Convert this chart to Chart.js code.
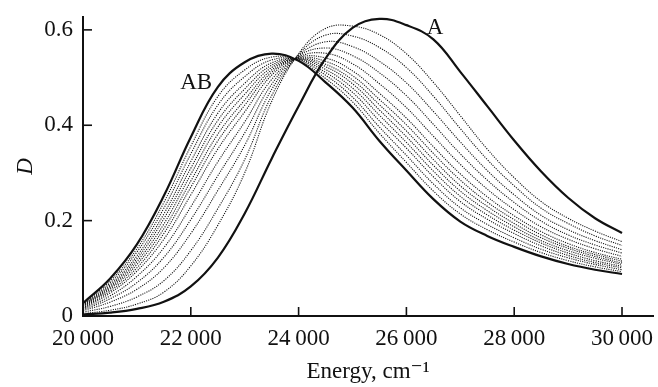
<!DOCTYPE html>
<html>
<head>
  <meta charset="utf-8">
  <title>Absorption spectra</title>
  <style>
  body { margin:0; background:#fff; }
  #wrap { width:658px; height:387px; position:relative; }
  </style>
  <script src="https://cdn.jsdelivr.net/npm/chart.js@4.4.1/dist/chart.umd.min.js"></script>
</head>
<body>
<div id="wrap"><canvas id="spectra"></canvas></div>
<script>

// energy grid, cm-1
var energy = [20000,20500,21000,21500,22000,22500,23000,23500,24000,24500,25000,25500,26000,26500,27000,27500,28000,28500,29000,29500,30000];

// the two solid spectra
var curveA  = [.003,.007,.015,.030,.062,.122,.215,.330,.440,.540,.604,.623,.610,.580,.512,.440,.368,.303,.248,.205,.174];
var curveAB = [.027,.078,.150,.252,.375,.480,.532,.550,.535,.490,.437,.367,.305,.245,.198,.168,.145,.125,.109,.097,.088];

// intermediate (dotted) spectra, from AB side towards A side
var mid01 = [.026,.073,.141,.238,.356,.460,.516,.543,.536,.498,.449,.383,.322,.262,.214,.181,.155,.133,.116,.103,.093];
var mid02 = [.024,.069,.134,.226,.340,.442,.502,.537,.537,.505,.459,.396,.337,.277,.227,.192,.164,.140,.122,.108,.097];
var mid03 = [.023,.065,.126,.214,.324,.425,.488,.531,.538,.511,.469,.409,.352,.292,.240,.203,.173,.147,.127,.112,.101];
var mid04 = [.022,.062,.120,.204,.310,.410,.476,.526,.539,.517,.478,.421,.364,.304,.251,.212,.180,.153,.132,.116,.104];
var mid05 = [.021,.059,.114,.193,.297,.396,.465,.521,.539,.523,.487,.432,.376,.316,.262,.221,.187,.158,.137,.121,.108];
var mid06 = [.020,.056,.108,.183,.283,.381,.453,.516,.540,.528,.495,.443,.388,.328,.273,.230,.194,.164,.142,.125,.111];
var mid07 = [.018,.052,.101,.173,.270,.367,.442,.511,.541,.534,.504,.454,.401,.341,.285,.239,.202,.170,.146,.129,.115];
var mid08 = [.017,.048,.094,.161,.254,.350,.428,.505,.542,.541,.514,.467,.415,.355,.298,.250,.210,.177,.152,.133,.119];
var mid09 = [.015,.042,.083,.143,.229,.323,.407,.496,.543,.551,.529,.487,.437,.377,.318,.266,.223,.187,.161,.141,.125];
var mid10 = [.013,.036,.070,.123,.202,.294,.384,.486,.545,.562,.546,.510,.462,.402,.340,.285,.238,.199,.170,.149,.132];
var mid11 = [.011,.029,.056,.101,.173,.263,.358,.475,.546,.575,.565,.534,.489,.429,.365,.305,.254,.211,.181,.158,.139];
var mid12 = [.008,.020,.040,.074,.137,.225,.328,.462,.548,.589,.587,.563,.521,.461,.393,.328,.273,.226,.194,.168,.148];
var mid13 = [.005,.012,.025,.050,.105,.190,.300,.450,.550,.603,.608,.590,.550,.490,.420,.350,.290,.240,.205,.178,.156];

var midCurves = [mid01,mid02,mid03,mid04,mid05,mid06,mid07,mid08,mid09,mid10,mid11,mid12,mid13];

var xTicks = [20000,22000,24000,26000,28000,30000];
var yTicks = [0,0.2,0.4,0.6];

var serif = '"Liberation Serif", "DejaVu Serif", serif';

function pts(arr){
  return arr.map(function(v,i){ return {x:energy[i], y:v}; });
}

var sets = [];
sets.push({label:'A',  data:pts(curveA),  borderColor:'#111', borderWidth:2.2, pointRadius:0, fill:false, tension:0.4});
sets.push({label:'AB', data:pts(curveAB), borderColor:'#111', borderWidth:2.2, pointRadius:0, fill:false, tension:0.4});
for(var k=0;k<midCurves.length;k++){
  sets.push({label:'m'+(k+1), data:pts(midCurves[k]), borderColor:'#111', borderWidth:1.1, borderDash:[1.1,1.2],
             pointRadius:0, fill:false, tension:0.4});
}

// inward tick marks + curve labels
var decor = {
  id:'decor',
  afterDraw: function(chart){
    var ctx = chart.ctx, x = chart.scales.x, y = chart.scales.y;
    ctx.save();
    ctx.strokeStyle = '#111';
    ctx.lineWidth = 1.6;
    xTicks.forEach(function(v){
      var px = x.getPixelForValue(v);
      ctx.beginPath(); ctx.moveTo(px, y.bottom); ctx.lineTo(px, y.bottom-9); ctx.stroke();
    });
    yTicks.forEach(function(v){
      var py = y.getPixelForValue(v);
      ctx.beginPath(); ctx.moveTo(x.left, py); ctx.lineTo(x.left+9, py); ctx.stroke();
    });
    ctx.fillStyle = '#111';
    ctx.font = '23px ' + serif;
    ctx.textAlign = 'center';
    ctx.textBaseline = 'middle';
    ctx.fillText('A',  x.getPixelForValue(26530), y.getPixelForValue(0.604));
    ctx.fillText('AB', x.getPixelForValue(22100), y.getPixelForValue(0.489));
    ctx.restore();
  }
};

var chart = new Chart(document.getElementById('spectra').getContext('2d'), {
  type:'line',
  data:{ datasets: sets },
  options:{
    responsive:true,
    maintainAspectRatio:false,
    animation:false,
    layout:{ padding:{left:0, right:5, top:17, bottom:0} },
    plugins:{ legend:{display:false}, tooltip:{enabled:false} },
    scales:{
      x:{
        type:'linear', min:20000, max:30575,
        grid:{display:false, drawTicks:false},
        border:{display:true, color:'#111', width:2},
        afterBuildTicks:function(s){ s.ticks = xTicks.map(function(v){return {value:v};}); },
        afterFit:function(s){ s.height = 71; s.paddingLeft = 0; s.paddingRight = 0; },
        ticks:{ color:'#111', padding:9, maxRotation:0, autoSkip:false,
                font:{family:serif, size:23},
                callback:function(v){ return String(v/1000) + '\u2009000'; } },
        title:{ display:true, text:'Energy, cm\u207B\u00B9', color:'#111',
                font:{family:serif, size:23}, padding:{top:0, bottom:1} }
      },
      y:{
        min:0, max:0.627,
        grid:{display:false, drawTicks:false},
        border:{display:true, color:'#111', width:2},
        afterBuildTicks:function(s){ s.ticks = yTicks.map(function(v){return {value:v};}); },
        afterFit:function(s){ s.width = 83; s.paddingTop = 0; s.paddingBottom = 0; },
        ticks:{ color:'#111', padding:10, autoSkip:false,
                font:{family:serif, size:23},
                callback:function(v){ return v === 0 ? '0' : v.toFixed(1); } },
        title:{ display:true, text:'D', color:'#111',
                font:{family:serif, size:23, style:'italic'}, padding:{top:12, bottom:0} }
      }
    }
  },
  plugins:[decor]
});

</script>
</body>
</html>
